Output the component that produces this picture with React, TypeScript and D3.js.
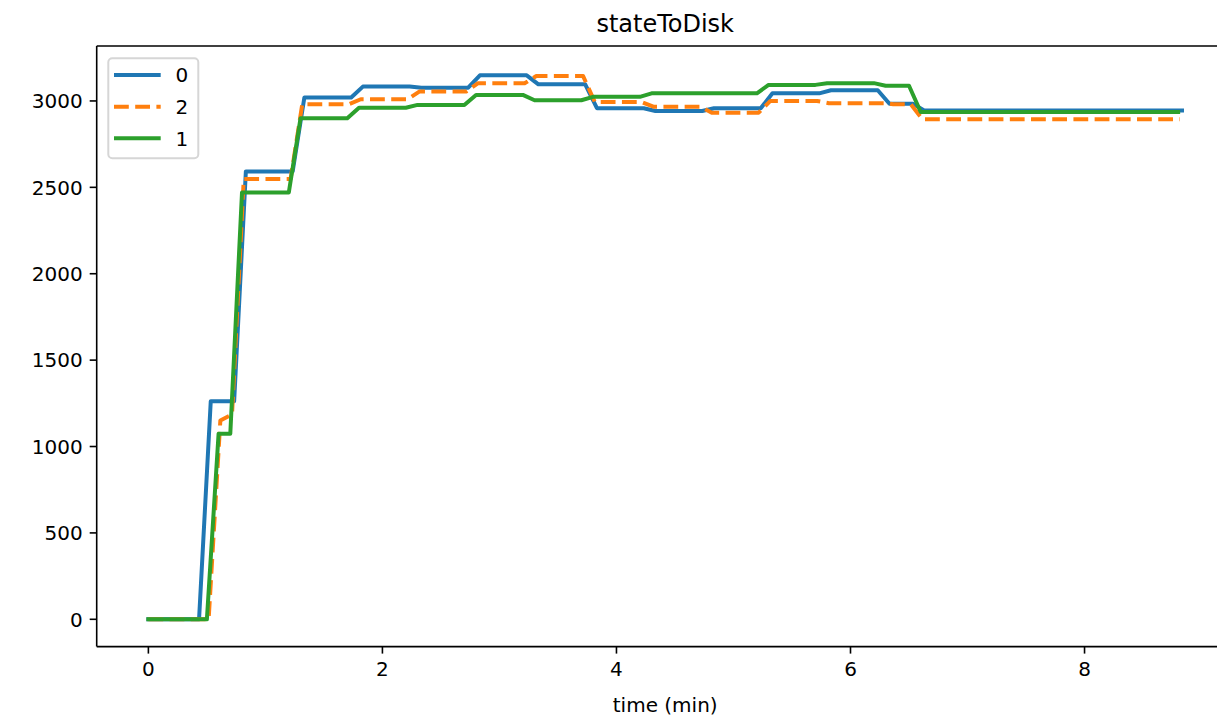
import React from "react";
import * as d3 from "d3";

// ---- data (time in minutes, value) ----
const blueTimes = [0, 0.433, 0.533, 0.733, 0.833, 1.233, 1.333, 1.733, 1.833, 2.233, 2.333, 2.733, 2.833, 3.233, 3.333, 3.733, 3.833, 4.233, 4.333, 4.733, 4.833, 5.233, 5.333, 5.733, 5.833, 6.233, 6.333, 6.533, 6.633, 8.833];
const blueValues = [0, 0, 1262, 1262, 2592, 2592, 3020, 3020, 3083, 3083, 3077, 3077, 3148, 3148, 3096, 3096, 2958, 2958, 2942, 2942, 2958, 2958, 3044, 3044, 3062, 3062, 2984, 2984, 2944, 2944];

const orangeTimes = [0, 0.515, 0.615, 0.715, 0.815, 1.215, 1.315, 1.715, 1.815, 2.215, 2.315, 2.715, 2.815, 3.215, 3.315, 3.715, 3.815, 4.215, 4.315, 4.715, 4.815, 5.215, 5.315, 5.715, 5.815, 6.315, 6.365, 6.515, 6.615, 8.815];
const orangeValues = [0, 0, 1151, 1186, 2548, 2548, 2981, 2981, 3010, 3010, 3054, 3054, 3102, 3102, 3144, 3144, 2994, 2994, 2967, 2967, 2932, 2932, 3000, 3000, 2987, 2987, 2981, 2981, 2894, 2894];

const greenTimes = [0, 0.5, 0.6, 0.7, 0.8, 1.2, 1.3, 1.7, 1.8, 2.2, 2.3, 2.7, 2.8, 3.2, 3.3, 3.7, 3.8, 4.2, 4.3, 5.2, 5.3, 5.7, 5.8, 6.2, 6.3, 6.5, 6.6, 8.8];
const greenValues = [0, 0, 1074, 1074, 2470, 2470, 2900, 2900, 2961, 2961, 2977, 2977, 3035, 3035, 3004, 3004, 3024, 3024, 3044, 3044, 3093, 3093, 3103, 3103, 3088, 3088, 2936, 2936];

const seriesLabels = ["0", "2", "1"];
const xTicks = [0, 2, 4, 6, 8];
const yTicks = [0, 500, 1000, 1500, 2000, 2500, 3000];

const FONT = "DejaVu Sans, Verdana, sans-serif";

export default function App() {
  const W = 1217;
  const H = 719;
  const left = 96.7;
  const bottom = 646.6;
  const top = 46;
  const tMax = 8.833;
  const x = d3.scaleLinear().domain([-0.05 * tMax, 1.05 * tMax]).range([left, left + 1137]);
  const y = d3.scaleLinear().domain([-158, 3318]).range([bottom, top]);
  const right = x(1.05 * tMax);

  const mk = (ts: number[], vs: number[]) => ts.map((t, i) => [t, vs[i]] as [number, number]);
  const series = [
    { label: seriesLabels[0], color: "#1f77b4", dash: undefined as string | undefined, pts: mk(blueTimes, blueValues) },
    { label: seriesLabels[1], color: "#ff7f0e", dash: "14.8,6.4", pts: mk(orangeTimes, orangeValues) },
    { label: seriesLabels[2], color: "#2ca02c", dash: undefined as string | undefined, pts: mk(greenTimes, greenValues) },
  ];
  const line = d3
    .line<[number, number]>()
    .x((d) => x(d[0]))
    .y((d) => y(d[1]));

  const legendLineY = [75, 106.7, 138.3];

  return (
    <svg
      width={W}
      height={H}
      style={{ position: "absolute", left: 0, top: 0, background: "#fff" }}
      fontFamily={FONT}
    >
      <rect x={0} y={0} width={W} height={H} fill="#fff" />
      <defs>
        <clipPath id="plotclip">
          <rect x={left} y={top} width={right - left} height={bottom - top} />
        </clipPath>
      </defs>
      <g clipPath="url(#plotclip)">
        {series.map((s) => (
          <path
            key={s.label}
            d={line(s.pts) || ""}
            fill="none"
            stroke={s.color}
            strokeWidth={4}
            strokeDasharray={s.dash}
            strokeLinejoin="round"
            strokeLinecap={s.dash ? "butt" : "square"}
          />
        ))}
      </g>
      {/* spines */}
      <line x1={left} x2={left} y1={top} y2={bottom} stroke="#000" strokeWidth={1.6} />
      <line x1={left} x2={right} y1={bottom} y2={bottom} stroke="#000" strokeWidth={1.6} />
      <line x1={left} x2={right} y1={top} y2={top} stroke="#000" strokeWidth={1.6} />
      <line x1={right} x2={right} y1={top} y2={bottom} stroke="#000" strokeWidth={1.6} />
      {/* x ticks */}
      {xTicks.map((t) => (
        <g key={"x" + t}>
          <line x1={x(t)} x2={x(t)} y1={bottom} y2={bottom + 7} stroke="#000" strokeWidth={1.6} />
          <text x={x(t)} y={676} textAnchor="middle" fontSize={20} fill="#000">
            {t}
          </text>
        </g>
      ))}
      {/* y ticks */}
      {yTicks.map((v) => (
        <g key={"y" + v}>
          <line x1={left - 7} x2={left} y1={y(v)} y2={y(v)} stroke="#000" strokeWidth={1.6} />
          <text x={left - 14} y={y(v) + 7.3} textAnchor="end" fontSize={20} fill="#000">
            {v}
          </text>
        </g>
      ))}
      <text x={(left + right) / 2} y={711.5} textAnchor="middle" fontSize={20} fill="#000">
        time (min)
      </text>
      <text x={(left + right) / 2} y={31.7} textAnchor="middle" fontSize={24} fill="#000">
        stateToDisk
      </text>
      {/* legend */}
      <rect x={108.3} y={58.3} width={90} height={100} rx={4} ry={4} fill="#fff" fillOpacity={0.8} stroke="#d6d6d6" strokeWidth={2} />
      {series.map((s, i) => (
        <g key={"lg" + s.label}>
          <line
            x1={114}
            x2={160.7}
            y1={legendLineY[i]}
            y2={legendLineY[i]}
            stroke={s.color}
            strokeWidth={4}
            strokeDasharray={s.dash}
            strokeLinecap="butt"
          />
          <text x={175.5} y={legendLineY[i] + 7.3} fontSize={20} fill="#000">
            {s.label}
          </text>
        </g>
      ))}
    </svg>
  );
}
